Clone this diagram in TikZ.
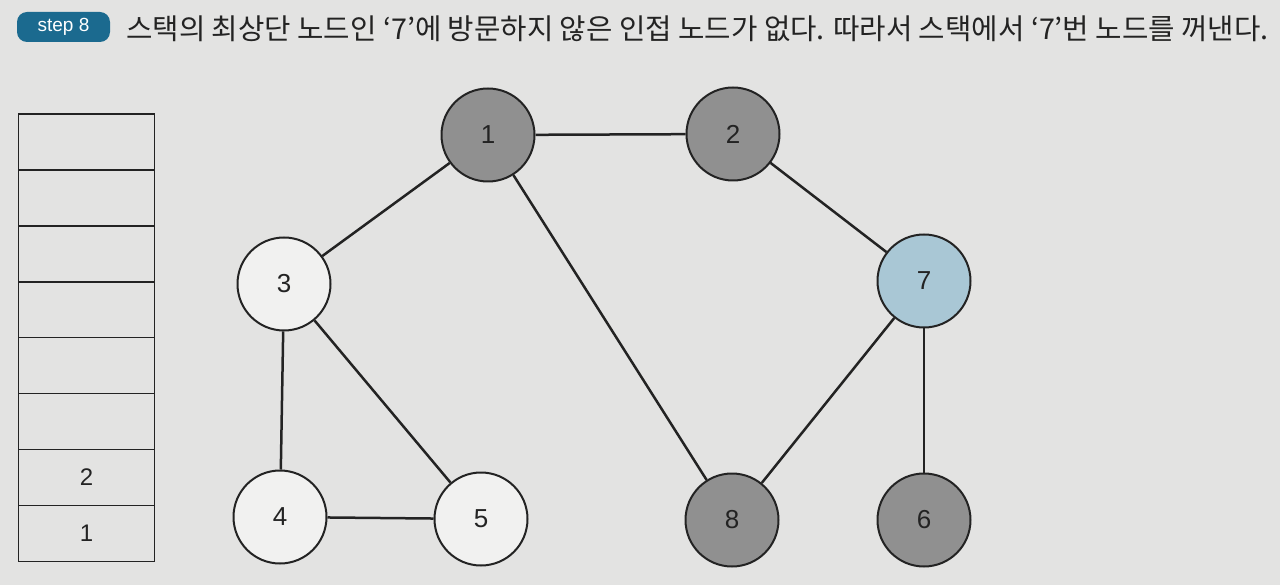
\documentclass[tikz,border=0pt]{standalone}
\usepackage{fontspec}
\setmainfont{Liberation Sans}
\newfontfamily\kr{Noto Sans CJK KR}
\definecolor{bgc}{HTML}{E3E3E2}
\definecolor{grayn}{HTML}{909090}
\definecolor{bluen}{HTML}{A9C7D5}
\definecolor{whiten}{HTML}{F1F1F0}
\definecolor{badge}{HTML}{1B6A8F}
\definecolor{ink}{HTML}{232323}
\begin{document}
\begin{tikzpicture}[x=1pt,y=-1pt,
  gnode/.style={circle,draw=ink,line width=2pt,minimum size=93pt,inner sep=0pt,font=\fontsize{26}{26}\selectfont,text=ink},
  visited/.style={gnode,fill=grayn},
  current/.style={gnode,fill=bluen},
  fresh/.style={gnode,fill=whiten},
  edge/.style={draw=ink,line width=2.5pt},
  cell/.style={draw=ink,line width=1.6pt,minimum width=136pt,minimum height=56pt,inner sep=0pt,font=\fontsize{24}{24}\selectfont,text=ink}]
\useasboundingbox[fill=bgc] (0,0) rectangle (1280,585);
% header
\node[fill=badge,rounded corners=10pt,minimum width=93pt,minimum height=30pt,inner sep=0pt,text=white,font=\fontsize{19}{19}\selectfont] (badge) at (63.5,27) {step 8};
\node[anchor=west,inner sep=0pt,text=ink,font=\kr\fontsize{28.7}{28.7}\selectfont] (title) at (126,29) {스택의 최상단 노드인 ‘7’에 방문하지 않은 인접 노드가 없다. 따라서 스택에서 ‘7’번 노드를 꺼낸다.};
% stack
\foreach \i/\t in {0/,1/,2/,3/,4/,5/,6/2,7/1}{
  \node[cell] (s\i) at (86.5,142+\i*55.9) {\t};
}
% graph nodes
\node[visited] (n1) at (488,135) {1};
\node[visited] (n2) at (733,134) {2};
\node[fresh] (n3) at (284,284) {3};
\node[fresh] (n4) at (280,517) {4};
\node[fresh] (n5) at (481,519) {5};
\node[current] (n7) at (924,281) {7};
\node[visited] (n8) at (732,520) {8};
\node[visited] (n6) at (924,520) {6};
% edges
\draw[edge] (n1) -- (n2);
\draw[edge] (n1) -- (n3);
\draw[edge] (n1) -- (n8);
\draw[edge] (n2) -- (n7);
\draw[edge] (n3) -- (n4);
\draw[edge] (n3) -- (n5);
\draw[edge] (n4) -- (n5);
\draw[edge] (n7) -- (n8);
\draw[edge] (n7) -- (n6);
\end{tikzpicture}
\end{document}
